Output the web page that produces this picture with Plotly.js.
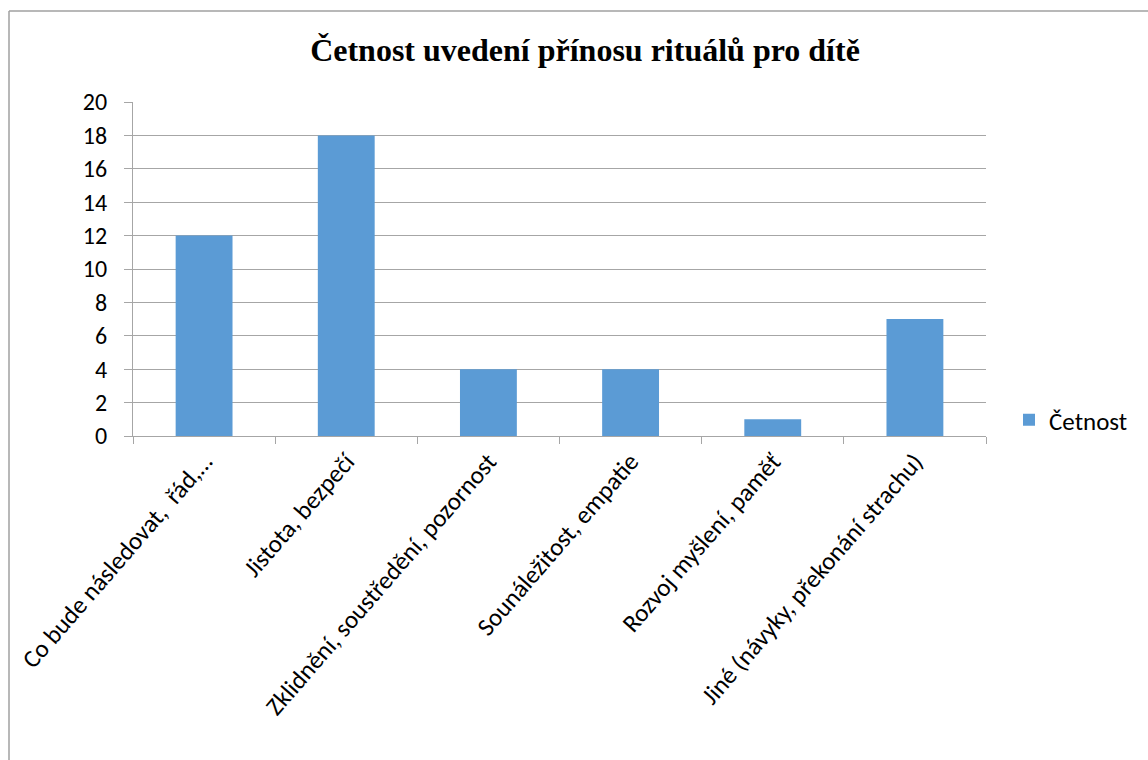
<!DOCTYPE html>
<html>
<head>
<meta charset="utf-8">
<script src="https://cdn.plot.ly/plotly-3.0.1.min.js"></script>
<style>html,body{margin:0;padding:0;background:#fff;}#chart{width:1148px;height:760px;}</style>
</head>
<body>
<div id="chart"></div>
<script>
const categories = [
  "Co bude následovat,  řád,…",
  "Jistota, bezpečí",
  "Zklidnění, soustředění, pozornost",
  "Sounáležitost, empatie",
  "Rozvoj myšlení, paměť",
  "Jiné (návyky, překonání strachu)"
];
const values = [12, 18, 4, 4, 1, 7];
const seriesName = "Četnost";
const chartTitle = "Četnost uvedení přínosu rituálů pro dítě";
const yTicks = [0, 2, 4, 6, 8, 10, 12, 14, 16, 18, 20];

const W = 1148, H = 760;
const L = 133, R = 986, T = 102, B = 436;
const px = x => (x - L) / (R - L);
const py = y => (B - y) / (B - T);
const gray = "#A6A6A6";
const font = "Carlito, Calibri, Lato, 'Open Sans', sans-serif";

const trace = {
  type: "bar",
  x: categories,
  y: values,
  name: seriesName,
  marker: {color: "#5B9BD5"},
  showlegend: true
};

const layout = {
  width: W, height: H,
  margin: {l: L, r: W - R, t: T, b: H - B, pad: 0},
  paper_bgcolor: "#fff",
  plot_bgcolor: "#fff",
  bargap: 0.6,
  font: {family: font, size: 24, color: "#000"},
  title: {
    text: "<b>" + chartTitle + "</b>",
    font: {family: "'Liberation Serif', 'Times New Roman', serif", size: 32, color: "#000"},
    x: 585 / W, xref: "container", xanchor: "center",
    y: 1 - 50 / H, yref: "container", yanchor: "middle"
  },
  xaxis: {
    type: "category",
    tickangle: -49,
    showline: true, linecolor: gray, linewidth: 1,
    ticks: "outside", ticklen: 7, tickcolor: gray, tickwidth: 1,
    tickson: "boundaries",
    showgrid: false,
    tickfont: {family: font, size: 25, color: "#000"},
    automargin: false
  },
  yaxis: {
    range: [0, 20],
    tickvals: yTicks,
    showline: true, linecolor: gray, linewidth: 1,
    ticks: "outside", ticklen: 8, tickcolor: gray, tickwidth: 1,
    showgrid: true, gridcolor: gray, gridwidth: 1,
    zeroline: false,
    ticklabelstandoff: 12,
    tickfont: {family: font, size: 24, color: "#000"},
    automargin: false
  },
  legend: {
    xref: "container", yref: "container",
    x: 1009 / W, xanchor: "left",
    y: 1 - 420 / H, yanchor: "middle",
    font: {family: font, size: 25, color: "#000"},
    itemwidth: 30,
    bgcolor: "rgba(0,0,0,0)"
  },
  shapes: [
    {type: "line", xref: "paper", yref: "paper", x0: px(9), x1: px(9), y0: py(11), y1: py(800), line: {color: "#A0A0A0", width: 1.5}},
    {type: "line", xref: "paper", yref: "paper", x0: px(9), x1: px(1200), y0: py(11), y1: py(11), line: {color: "#A0A0A0", width: 1.5}}
  ]
};

Plotly.newPlot("chart", [trace], layout, {displayModeBar: false, staticPlot: true});
</script>
</body>
</html>
